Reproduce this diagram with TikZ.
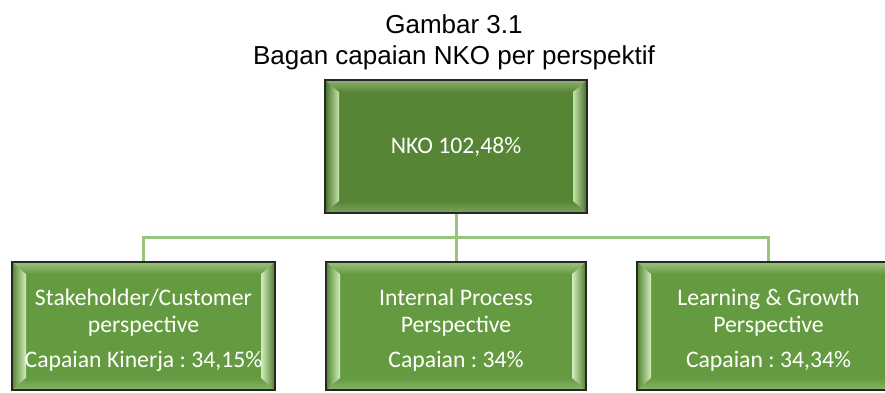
\documentclass[tikz,border=0pt]{standalone}
\usepackage{fontspec}
\setmainfont{Carlito}
\newfontfamily\titlefont{Liberation Sans}
\usetikzlibrary{calc}
\frenchspacing
\definecolor{topfill}{HTML}{578536}
\definecolor{botfill}{HTML}{659B40}
\definecolor{toplight}{HTML}{C4E4AC}
\definecolor{botlight}{HTML}{D2EEBE}
\definecolor{conn}{HTML}{95C67C}
\newcommand{\mybevel}[2]{%
  \coordinate (bnw) at (path picture bounding box.north west);
  \coordinate (bne) at (path picture bounding box.north east);
  \coordinate (bsw) at (path picture bounding box.south west);
  \coordinate (bse) at (path picture bounding box.south east);
  % top strip
  \shade[top color=#1!55!#2, bottom color=#1]
    ($(bnw)+(1,1)$) -- ($(bne)+(-1,1)$) -- ($(bne)+(-14,12)$) -- ($(bnw)+(14,12)$) -- cycle;
  % bottom strip
  \shade[top color=#1, bottom color=#1!70!#2]
    ($(bsw)+(1,-1)$) -- ($(bse)+(-1,-1)$) -- ($(bse)+(-14,-12)$) -- ($(bsw)+(14,-12)$) -- cycle;
  % left strip
  \shade[left color=#1!90!black, right color=#2]
    ($(bnw)+(1,1)$) -- ($(bnw)+(14,12)$) -- ($(bsw)+(14,-12)$) -- ($(bsw)+(1,-1)$) -- cycle;
  % right strip
  \shade[left color=#2, right color=#1!85!black]
    ($(bne)+(-1,1)$) -- ($(bne)+(-14,12)$) -- ($(bse)+(-14,-12)$) -- ($(bse)+(-1,-1)$) -- cycle;
}
\tikzset{
  boxbase/.style={draw=black!85, line width=1.6pt, text=white, inner sep=0pt,
    font=\fontsize{23.7}{28}\selectfont},
  topbox/.style={boxbase, fill=topfill, minimum width=262pt, minimum height=133pt,
    path picture={\mybevel{topfill}{toplight}}},
  botbox/.style={boxbase, fill=botfill, minimum width=263pt, minimum height=128pt,
    path picture={\mybevel{botfill}{botlight}}},
  boxtext/.style={text=white, inner sep=0pt, anchor=base, font=\fontsize{23.7}{28}\selectfont},
  titletext/.style={inner sep=0pt, anchor=base, text=black, font=\titlefont\fontsize{26}{31}\selectfont},
  connector/.style={draw=conn, line width=3pt}
}
\begin{document}
\begin{tikzpicture}[x=1pt,y=-1pt]
  \useasboundingbox (0,0) rectangle (885,392);
  \clip (0,0) rectangle (885,392);
  \fill[white] (0,0) rectangle (885,392);

  % title
  \node[titletext] (t1) at (454,33) {Gambar 3.1};
  \node[titletext] (t2) at (454,64) {Bagan capaian NKO per perspektif};

  % box positions (nodes drawn after connectors)
  \path (456,146.5) node[inner sep=0pt, minimum width=262pt, minimum height=133pt] (nkoA) {};
  \path (143.5,326) node[inner sep=0pt, minimum width=263pt, minimum height=128pt] (scA) {};
  \path (456,326) node[inner sep=0pt, minimum width=260pt, minimum height=128pt] (ipA) {};
  \path (768.5,326) node[inner sep=0pt, minimum width=263pt, minimum height=128pt] (lgA) {};

  % connectors
  \draw[connector] (nkoA.south) -- (ipA.north);
  \draw[connector] (scA.north) -- ++(0,-24) -| (lgA.north);

  % boxes
  \node[topbox] (nko) at (nkoA) {NKO 102,48\%};
  \node[botbox] (sc) at (scA) {};
  \node[botbox, minimum width=260pt] (ip) at (ipA) {};
  \node[botbox] (lg) at (lgA) {};

  % texts in bottom boxes
  \node[boxtext] (sc1) at (143.5,305) {Stakeholder/Customer};
  \node[boxtext] (sc2) at (143.5,332) {perspective};
  \node[boxtext] (sc3) at (143.5,367) {Capaian Kinerja : 34,15\%};

  \node[boxtext] (ip1) at (456,305) {Internal Process};
  \node[boxtext] (ip2) at (456,332) {Perspective};
  \node[boxtext] (ip3) at (456,367) {Capaian : 34\%};

  \node[boxtext] (lg1) at (768.5,305) {Learning \& Growth};
  \node[boxtext] (lg2) at (768.5,332) {Perspective};
  \node[boxtext] (lg3) at (768.5,367) {Capaian : 34,34\%};
\end{tikzpicture}
\end{document}
